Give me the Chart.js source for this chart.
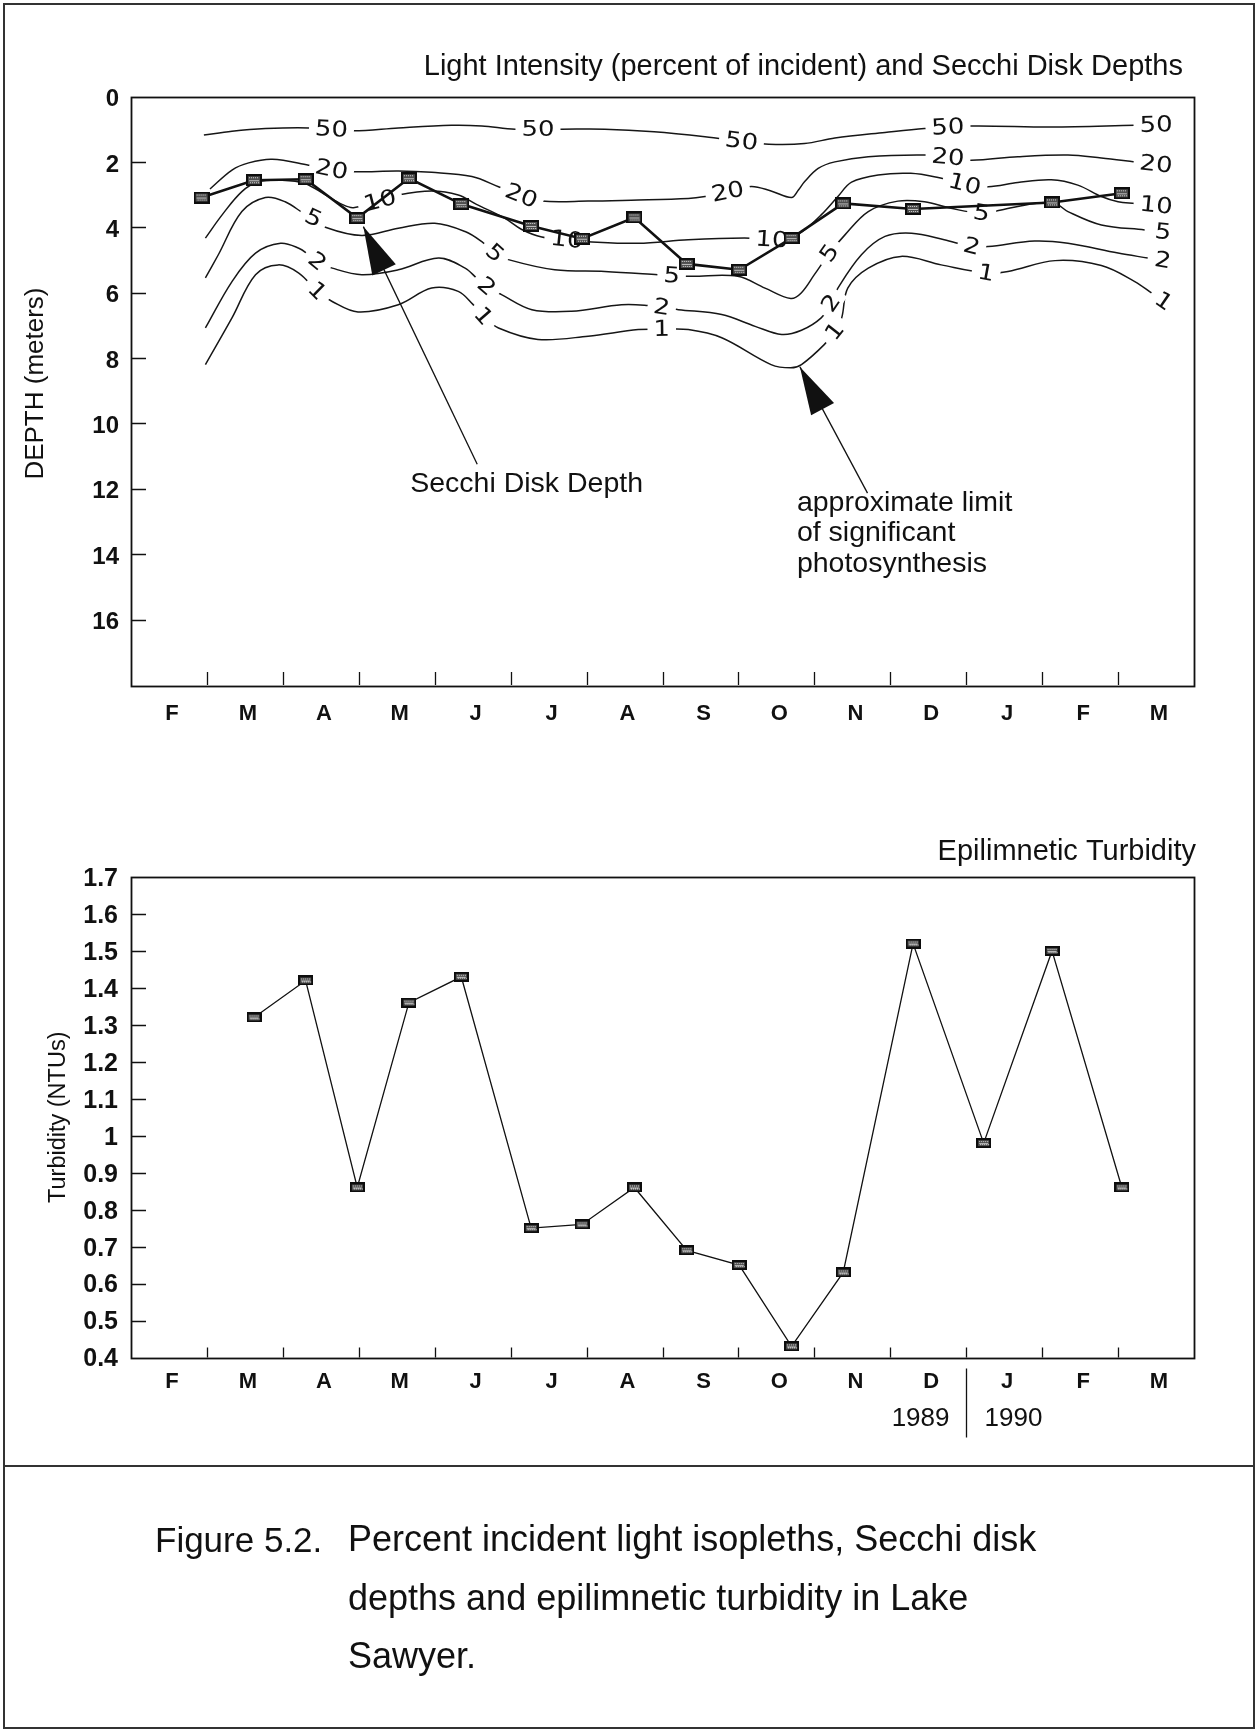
<!DOCTYPE html>
<html>
<head>
<meta charset="utf-8">
<script src="https://cdn.jsdelivr.net/npm/chart.js@4.4.1/dist/chart.umd.min.js"></script>
<style>
  html, body { margin: 0; padding: 0; background: #fff; }
  #page { position: relative; width: 1257px; height: 1732px; background: #fff; overflow: hidden;
          font-family: "Liberation Sans", Arial, Helvetica, sans-serif; color: #111; }
  #frame { position: absolute; left: 3px; top: 3px; width: 1252px; height: 1726px; box-sizing: border-box; border: 2px solid #333; }
  #sep { position: absolute; left: 3px; top: 1465px; width: 1252px; height: 0; border-top: 2px solid #333; }
  canvas { position: absolute; left: 0; }
  #c1 { top: 0; }
  #c2 { top: 740px; }
  .cap { position: absolute; font-size: 36px; line-height: 36px; white-space: nowrap; }
</style>
</head>
<body>
<div id="page">
  <canvas id="c1" width="1257" height="760"></canvas>
  <canvas id="c2" width="1257" height="720"></canvas>
  <div id="frame"></div>
  <div id="sep"></div>
  <div class="cap" style="left:155px; top:1522px; font-size:35px; line-height:35px;">Figure 5.2.</div>
  <div class="cap" style="left:348px; top:1521px;">Percent incident light isopleths, Secchi disk</div>
  <div class="cap" style="left:348px; top:1580px;">depths and epilimnetic turbidity in Lake</div>
  <div class="cap" style="left:348px; top:1638px;">Sawyer.</div>
</div>
<script>
// ---------------- DATA ----------------
const months = ['F','M','A','M','J','J','A','S','O','N','D','J','F','M'];
const years = ['1989', '1990'];
const yearBreak = 11;               // boundary between Dec 1989 and Jan 1990 (months from Feb 1989)
// sampling dates, in months from the start of Feb 1989
const sampleMonths = [0.93, 1.62, 2.30, 2.98, 3.66, 4.35, 5.27, 5.94, 6.63, 7.32, 8.01, 8.70, 9.38, 10.30, 11.23, 12.13, 13.05];
const secchiDepth  = [3.09, 2.56, 2.53, 3.72, 2.50, 3.29, 3.96, 4.35, 3.70, 5.12, 5.30, 4.33, 3.27, 3.44, null, 3.24, 2.96];
const turbidity    = [null, 1.32, 1.42, 0.86, 1.36, 1.43, 0.75, 0.76, 0.86, 0.69, 0.65, 0.43, 0.63, 1.52, 0.98, 1.50, 0.86];

// light isopleths (percent of incident): [month, depth m]
const iso50 = [[0.96,1.18],[1.33,1.06],[1.77,0.98],[2.34,0.96],[2.93,1.05],[3.52,0.96],[4.22,0.88],[4.62,0.90],[5.06,1.0],[5.67,1.0],[6.24,1.0],[6.89,1.08],[7.56,1.23],[8.04,1.37],[8.40,1.46],[8.87,1.44],[9.27,1.27],[9.93,1.10],[10.45,0.98],[11.07,0.90],[12.12,0.93],[13.22,0.88]];
const iso20 = [[1.04,2.83],[1.33,2.25],[1.55,2.03],[1.86,1.92],[2.34,2.10],[2.64,2.24],[2.93,2.30],[3.52,2.28],[3.96,2.32],[4.49,2.45],[4.84,2.76],[5.14,3.04],[5.41,3.20],[6.02,3.20],[6.59,3.17],[7.34,3.12],[7.56,3.06],[7.86,2.92],[8.17,2.75],[8.43,2.89],[8.70,3.09],[8.79,2.86],[8.87,2.61],[9.05,2.20],[9.27,2.0],[9.71,1.84],[10.45,1.79],[10.76,1.86],[11.07,1.95],[11.68,1.84],[12.34,1.79],[12.78,1.88],[13.22,2.0]];
const iso10 = [[0.98,4.33],[1.20,3.62],[1.46,2.91],[1.68,2.61],[1.99,2.56],[2.29,2.66],[2.56,3.01],[2.78,3.30],[2.93,3.40],[3.28,3.19],[3.52,3.01],[3.96,2.89],[4.31,3.01],[4.55,3.30],[4.92,3.72],[5.14,4.06],[5.41,4.30],[5.74,4.38],[6.02,4.44],[6.68,4.49],[7.34,4.38],[8.08,4.33],[8.44,4.38],[8.65,4.33],[8.83,4.15],[9.09,3.62],[9.31,3.06],[9.49,2.62],[9.84,2.40],[10.27,2.35],[10.63,2.48],[10.98,2.69],[11.29,2.76],[11.68,2.63],[12.12,2.55],[12.47,2.71],[12.78,3.06],[13.0,3.22],[13.22,3.27]];
const iso5  = [[0.98,5.55],[1.15,4.84],[1.46,3.52],[1.77,3.09],[2.03,3.22],[2.29,3.60],[2.40,3.72],[2.56,4.0],[3.04,4.25],[3.52,4.03],[4.0,3.88],[4.4,4.13],[4.62,4.44],[4.79,4.79],[4.97,4.99],[5.58,5.30],[6.24,5.35],[6.94,5.45],[7.12,5.48],[7.38,5.5],[7.99,5.5],[8.35,5.86],[8.69,6.18],[8.83,6.0],[9.0,5.45],[9.20,4.79],[9.40,4.24],[9.71,3.52],[10.10,3.2],[10.45,3.22],[10.80,3.42],[11.20,3.57],[11.46,3.47],[11.90,3.27],[12.17,3.27],[12.34,3.52],[12.78,3.93],[13.35,4.08]];
const iso2  = [[0.98,7.08],[1.33,5.66],[1.64,4.79],[1.97,4.49],[2.21,4.64],[2.34,4.84],[2.45,5.05],[2.65,5.25],[3.04,5.45],[3.52,5.30],[4.05,4.94],[4.40,5.25],[4.55,5.55],[4.68,5.81],[4.88,6.06],[5.28,6.52],[5.80,6.57],[6.46,6.37],[6.81,6.39],[6.99,6.45],[7.21,6.52],[7.78,6.67],[8.22,7.03],[8.57,7.28],[8.83,7.15],[9.09,6.77],[9.22,6.32],[9.31,5.86],[9.62,4.84],[9.93,4.28],[10.28,4.18],[10.71,4.38],[11.07,4.59],[11.29,4.59],[11.90,4.42],[12.34,4.49],[13.0,4.79],[13.39,4.94]];
const iso1  = [[0.98,8.2],[1.33,6.77],[1.64,5.45],[1.94,5.15],[2.21,5.4],[2.45,5.95],[2.65,6.27],[2.99,6.59],[3.52,6.37],[3.96,5.86],[4.31,5.96],[4.50,6.35],[4.64,6.72],[4.84,7.08],[5.36,7.43],[6.02,7.33],[6.68,7.13],[6.99,7.12],[7.34,7.13],[7.78,7.38],[8.43,8.2],[8.69,8.3],[8.83,8.2],[9.13,7.59],[9.27,7.18],[9.36,6.77],[9.44,5.86],[9.71,5.25],[10.14,4.89],[10.67,5.15],[11.26,5.40],[11.55,5.35],[12.17,5.02],[12.78,5.17],[13.22,5.66],[13.44,6.01]];
// months at which each isopleth is labelled
const iso50Labels = [2.64, 5.36, 8.04, 10.76, 13.50];
const iso20Labels = [2.64, 5.14, 7.86, 10.76, 13.50];
const iso10Labels = [3.28, 5.74, 8.44, 10.98, 13.50];
const iso5Labels  = [2.40, 4.79, 7.12, 9.20, 11.20, 13.59];
const iso2Labels  = [2.45, 4.68, 6.99, 9.22, 11.07, 13.59];
const iso1Labels  = [2.45, 4.64, 6.99, 9.27, 11.26, 13.60];

const contours = [
  { level: '50', pts: iso50, labels: iso50Labels },
  { level: '20', pts: iso20, labels: iso20Labels },
  { level: '10', pts: iso10, labels: iso10Labels },
  { level: '5',  pts: iso5,  labels: iso5Labels },
  { level: '2',  pts: iso2,  labels: iso2Labels },
  { level: '1',  pts: iso1,  labels: iso1Labels }
];

// ---------------- STYLE ----------------
const FONT = '"Liberation Sans", Arial, Helvetica, sans-serif';
Chart.defaults.font.family = FONT;
Chart.defaults.color = '#111';

function makeMarker(w, h) {
  const c = document.createElement('canvas');
  c.width = w; c.height = h;
  const g = c.getContext('2d');
  g.fillStyle = '#0d0d0d'; g.fillRect(0, 0, w, h);
  g.fillStyle = '#4d4d4d'; g.fillRect(2, 2, w - 4, h - 4);
  g.fillStyle = '#d8d8d8';
  for (let x = 3; x < w - 3; x += 2) { g.fillRect(x, 3, 1, 1); g.fillRect(x + 1, h - 4, 1, 1); }
  g.fillStyle = '#bdbdbd'; g.fillRect(3, Math.floor(h / 2), w - 6, 1);
  return c;
}
const secchiMarker = makeMarker(16, 12);
const turbMarker = makeMarker(15, 10);

const frameTicks = {
  id: 'frameTicks',
  afterDraw(chart, args, opts) {
    const { ctx, chartArea: a, scales } = chart;
    const xs = scales.x, ys = scales.y;
    ctx.save();
    ctx.strokeStyle = '#111';
    ctx.lineWidth = 1.3;
    ctx.beginPath();
    xs.ticks.forEach(t => {
      if (t.value > xs.min + 1e-9 && t.value < xs.max - 1e-9) {
        const px = Math.round(xs.getPixelForValue(t.value)) + 0.5;
        ctx.moveTo(px, a.bottom); ctx.lineTo(px, a.bottom - opts.xLen);
      }
    });
    ys.ticks.forEach(t => {
      if (t.value > ys.min + 1e-9 && t.value < ys.max - 1e-9) {
        const py = Math.round(ys.getPixelForValue(t.value)) + 0.5;
        ctx.moveTo(a.left, py); ctx.lineTo(a.left + opts.yLen, py);
      }
    });
    ctx.stroke();
    ctx.lineWidth = 1.8;
    ctx.strokeRect(Math.round(a.left) + 0.5, Math.round(a.top) + 0.5, Math.round(a.right - a.left), Math.round(a.bottom - a.top));
    // chart title, right-aligned over the plot
    ctx.font = opts.titleSize + 'px ' + FONT;
    ctx.fillStyle = '#111';
    ctx.textAlign = 'right';
    ctx.textBaseline = 'middle';
    ctx.fillText(opts.title, a.right + opts.titleDx, a.top - opts.titleDy);
    ctx.restore();
  }
};

const isoLabels = {
  id: 'isoLabels',
  afterDatasetDraw(chart, args) {
    if (args.index !== 1) return;
    const { ctx } = chart;
    const xs = chart.scales.x, ys = chart.scales.y;
    ctx.save();
    ctx.font = '22px "DejaVu Sans", sans-serif';
    ctx.textAlign = 'center';
    ctx.textBaseline = 'middle';
    const sx = 1.18;
    contours.forEach(c => {
      const pts = c.pts.map(p => [xs.getPixelForValue(p[0]), ys.getPixelForValue(p[1])]);
      c.labels.forEach(lx => {
        const px = xs.getPixelForValue(lx);
        let i = 0;
        while (i < pts.length - 2 && pts[i + 1][0] < px) i++;
        const [x0, y0] = pts[i], [x1, y1] = pts[i + 1];
        const t = (px - x0) / (x1 - x0);
        const py = y0 + t * (y1 - y0);
        const ang = Math.atan2(y1 - y0, x1 - x0);
        const w = ctx.measureText(c.level).width * sx + 12;
        ctx.save();
        ctx.translate(px, py);
        ctx.rotate(ang);
        ctx.fillStyle = '#fff';
        ctx.fillRect(-w / 2, -10, w, 20);
        ctx.scale(sx, 1);
        ctx.fillStyle = '#111';
        ctx.fillText(c.level, 0, 1);
        ctx.restore();
      });
    });
    ctx.restore();
  }
};

function drawArrow(ctx, x0, y0, x1, y1, headLen, headHalf) {
  ctx.beginPath(); ctx.moveTo(x0, y0); ctx.lineTo(x1, y1); ctx.stroke();
  const ang = Math.atan2(y1 - y0, x1 - x0);
  const bx = x1 - headLen * Math.cos(ang), by = y1 - headLen * Math.sin(ang);
  const sx = headHalf * Math.sin(ang), sy = headHalf * Math.cos(ang);
  ctx.beginPath();
  ctx.moveTo(x1, y1);
  ctx.lineTo(bx + sx, by - sy);
  ctx.lineTo(bx - sx, by + sy);
  ctx.closePath(); ctx.fill();
}

// annotation anchors in data space (month, depth)
const notes = {
  secchi: { text: ['Secchi Disk Depth'], at: [5.21, 11.86], align: 'center', tail: [4.56, 11.25], tip: [3.06, 3.98] },
  limit: { text: ['approximate limit', 'of significant', 'photosynthesis'], at: [8.77, 12.43], align: 'left', tail: [9.70, 12.13], tip: [8.81, 8.27] }
};

const annot = {
  id: 'annot',
  afterDraw(chart) {
    const { ctx } = chart;
    const xs = chart.scales.x, ys = chart.scales.y;
    ctx.save();
    ctx.strokeStyle = '#111'; ctx.fillStyle = '#111'; ctx.lineWidth = 1.3;
    Object.values(notes).forEach(n => {
      drawArrow(ctx, xs.getPixelForValue(n.tail[0]), ys.getPixelForValue(n.tail[1]),
                xs.getPixelForValue(n.tip[0]), ys.getPixelForValue(n.tip[1]), 48, 13);
      ctx.font = '28.5px ' + FONT;
      ctx.textAlign = n.align; ctx.textBaseline = 'middle';
      const x = xs.getPixelForValue(n.at[0]);
      const y = ys.getPixelForValue(n.at[1]);
      n.text.forEach((s, k) => ctx.fillText(s, x, y + k * 30.5));
    });
    ctx.restore();
  }
};

const yearMarks = {
  id: 'yearMarks',
  afterDraw(chart) {
    const { ctx, chartArea: a } = chart;
    const xs = chart.scales.x;
    const px = Math.round(xs.getPixelForValue(yearBreak)) + 0.5;
    ctx.save();
    ctx.strokeStyle = '#111'; ctx.lineWidth = 1.3;
    ctx.beginPath(); ctx.moveTo(px, a.bottom + 11); ctx.lineTo(px, a.bottom + 80); ctx.stroke();
    ctx.font = '26px ' + FONT; ctx.fillStyle = '#111'; ctx.textBaseline = 'middle';
    ctx.textAlign = 'right'; ctx.fillText(years[0], px - 17, a.bottom + 61);
    ctx.textAlign = 'left'; ctx.fillText(years[1], px + 18, a.bottom + 61);
    ctx.restore();
  }
};

const monthFont = { family: FONT, size: 22, weight: 'bold' };
const depthFont = { family: FONT, size: 24, weight: 'bold' };
const turbFont = { family: FONT, size: 25, weight: 'bold' };

// ---------------- CHART 1: light isopleths + Secchi ----------------
new Chart(document.getElementById('c1'), {
  type: 'line',
  data: {
    datasets: [
      { label: 'Secchi Disk Depth', data: sampleMonths.map((m, i) => ({ x: m, y: secchiDepth[i] })),
        borderColor: '#111', borderWidth: 2.6, pointStyle: secchiMarker, pointRadius: 8, spanGaps: true, tension: 0 }
    ].concat(contours.map(c => ({
      label: c.level + '%', data: c.pts.map(p => ({ x: p[0], y: p[1] })),
      borderColor: '#161616', borderWidth: 1.5, pointRadius: 0, tension: 0.35, fill: false
    })))
  },
  options: {
    responsive: false, animation: false, devicePixelRatio: 1, events: [],
    layout: { padding: { left: 0, right: 63, top: 96.5, bottom: 0 } },
    plugins: {
      legend: { display: false }, tooltip: { enabled: false },
      frameTicks: { xLen: 13, yLen: 15, title: 'Light Intensity (percent of incident) and Secchi Disk Depths',
                    titleSize: 29, titleDx: -11, titleDy: 30 }
    },
    scales: {
      x: { type: 'linear', min: 0, max: 14, display: false, ticks: { stepSize: 1 } },
      xm: { type: 'category', labels: months, offset: true, position: 'bottom',
            grid: { display: false, drawTicks: false }, border: { display: false },
            ticks: { font: monthFont, color: '#111', padding: 16, labelOffset: 3, autoSkip: false, maxRotation: 0 },
            afterFit(s) { s.height = 75; } },
      y: { type: 'linear', reverse: true, min: 0, max: 18,
           grid: { display: false, drawTicks: false }, border: { display: false },
           ticks: { stepSize: 2, font: depthFont, color: '#111', padding: 12, labelOffset: 3,
                    callback: v => (v === 18 ? '' : String(v)) },
           title: { display: true, text: '  DEPTH (meters)', color: '#111', font: { family: FONT, size: 26 }, padding: { top: 20, bottom: 0 } },
           afterFit(s) { s.width = 131; } }
    }
  },
  plugins: [frameTicks, isoLabels, annot]
});

// ---------------- CHART 2: turbidity ----------------
new Chart(document.getElementById('c2'), {
  type: 'line',
  data: {
    datasets: [
      { label: 'Epilimnetic Turbidity', data: sampleMonths.map((m, i) => ({ x: m, y: turbidity[i] })),
        borderColor: '#111', borderWidth: 1.3, pointStyle: turbMarker, pointRadius: 7, spanGaps: false, tension: 0 }
    ]
  },
  options: {
    responsive: false, animation: false, devicePixelRatio: 1, events: [],
    layout: { padding: { left: 0, right: 63, top: 137, bottom: 0 } },
    plugins: {
      legend: { display: false }, tooltip: { enabled: false },
      frameTicks: { xLen: 10, yLen: 15, title: 'Epilimnetic Turbidity', titleSize: 29, titleDx: 2, titleDy: 25 }
    },
    scales: {
      x: { type: 'linear', min: 0, max: 14, display: false, ticks: { stepSize: 1 } },
      xm: { type: 'category', labels: months, offset: true, position: 'bottom',
            grid: { display: false, drawTicks: false }, border: { display: false },
            ticks: { font: monthFont, color: '#111', padding: 11, labelOffset: 3, autoSkip: false, maxRotation: 0 },
            afterFit(s) { s.height = 102.5; } },
      y: { type: 'linear', min: 0.4, max: 1.7,
           grid: { display: false, drawTicks: false }, border: { display: false },
           ticks: { stepSize: 0.1, font: turbFont, color: '#111', padding: 13, labelOffset: 2,
                    callback: v => String(Math.round(v * 10) / 10) },
           title: { display: true, text: 'Turbidity (NTUs)', color: '#111', font: { family: FONT, size: 23.5 }, padding: { top: 44, bottom: 0 } },
           afterFit(s) { s.width = 131; } }
    }
  },
  plugins: [frameTicks, yearMarks]
});
</script>
</body>
</html>
